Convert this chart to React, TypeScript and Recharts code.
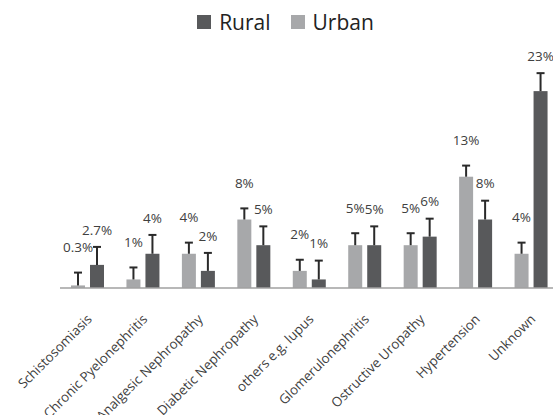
import { Bar, BarChart, LabelList, Legend, XAxis, YAxis } from 'recharts'

const CATEGORIES = [
  'Schistosomiasis', 'Chronic Pyelonephritis', 'Analgesic Nephropathy', 'Diabetic Nephropathy',
  'others e.g. lupus', 'Glomerulonephritis', 'Ostructive Uropathy', 'Hypertension', 'Unknown',
]
const URBAN = [0.3, 1, 4, 8, 2, 5, 5, 13, 4]
const RURAL = [2.7, 4, 2, 5, 1, 5, 6, 8, 23]
const URBAN_ERR = [1.5, 1.4, 1.3, 1.3, 1.3, 1.4, 1.4, 1.3, 1.3]
const RURAL_ERR = [2.1, 2.2, 2.1, 2.2, 2.2, 2.2, 2.1, 2.2, 2.1]
const LEGEND_ITEMS = ['Rural', 'Urban']

const RURAL_COLOR = '#58595b'
const URBAN_COLOR = '#a7a8aa'
const ERR_COLOR = '#2a2a2a'
const TEXT = '#404040'
const FONT = '"Open Sans", sans-serif'

const data = CATEGORIES.map((name, i) => ({
  name,
  urban: URBAN[i],
  rural: RURAL[i],
  urbanErr: URBAN_ERR[i],
  ruralErr: RURAL_ERR[i],
}))

const fmt = (v: number) => (Number.isInteger(v) ? `${v}%` : `${v.toFixed(1)}%`)

// bar + one-sided (upper) error whisker, scaled off the bar's own px/unit
function makeShape (errKey: 'urbanErr' | 'ruralErr') {
  return function BarWithErr (props: any) {
    const { x, y, width, height, fill, payload, value } = props
    const v = Array.isArray(value) ? value[1] - value[0] : value
    const pxPer = v ? height / v : 0
    const e = payload[errKey] * pxPer
    const cx = x + width / 2
    return (
      <g>
        <rect x={x} y={y} width={width} height={height} fill={fill} />
        <line x1={cx} x2={cx} y1={y} y2={y - e} stroke={ERR_COLOR} strokeWidth={2} />
        <line x1={cx - 4} x2={cx + 4} y1={y - e} y2={y - e} stroke={ERR_COLOR} strokeWidth={2} />
      </g>
    )
  }
}

function makeLabel (errs: number[], vals: number[], lift: number) {
  return function ValueLabel (props: any) {
    const { x, y, width, height, index } = props
    const v = vals[index]
    const pxPer = v ? height / v : 0
    const top = y - errs[index] * pxPer
    return (
      <text x={x + width / 2} y={top - lift} textAnchor="middle" dominantBaseline="middle"
        fontSize={13.5} fontFamily={FONT} fill={TEXT}>
        {fmt(v)}
      </text>
    )
  }
}

function Tick (props: any) {
  const { x, y, payload } = props
  return (
    <text x={x + 5} y={y + 24} transform={`rotate(-45 ${x + 5} ${y + 24})`} textAnchor="end"
      fontSize={13.3} fontFamily={FONT} fill={TEXT}>
      {payload.value}
    </text>
  )
}

function LegendBox () {
  const colors: Record<string, string> = { Rural: RURAL_COLOR, Urban: URBAN_COLOR }
  return (
    <div style={{ display: 'flex', justifyContent: 'center', gap: 20, fontFamily: FONT, fontSize: 21, color: '#222', lineHeight: '26px' }}>
      {LEGEND_ITEMS.map((k) => (
        <span key={k} style={{ display: 'flex', alignItems: 'center', gap: 8 }}>
          <span style={{ width: 14, height: 14, background: colors[k], display: 'inline-block' }} />
          {k}
        </span>
      ))}
    </div>
  )
}

export default function App () {
  return (
    <div style={{ position: 'absolute', left: 0, top: 0, width: 553, height: 415, overflow: 'hidden', background: '#fff' }}>
      <BarChart width={565} height={415} data={data} barSize={14} barGap={5}
        margin={{ top: 38, right: 6, bottom: 97, left: 60 }}>
        <Legend verticalAlign="top" height={36} wrapperStyle={{ top: 9, left: 0, width: 571 }} content={() => <LegendBox />} />
        <XAxis dataKey="name" interval={0} tickLine={false} axisLine={{ stroke: '#a0a0a0', strokeWidth: 1.5 }} tick={<Tick />} />
        <YAxis hide domain={[0, 25]} />
        <Bar dataKey="urban" fill={URBAN_COLOR} shape={makeShape('urbanErr')} isAnimationActive={false}>
          <LabelList dataKey="urban" content={makeLabel(URBAN_ERR, URBAN, 24)} />
        </Bar>
        <Bar dataKey="rural" fill={RURAL_COLOR} shape={makeShape('ruralErr')} isAnimationActive={false}>
          <LabelList dataKey="rural" content={makeLabel(RURAL_ERR, RURAL, 16)} />
        </Bar>
      </BarChart>
    </div>
  )
}
